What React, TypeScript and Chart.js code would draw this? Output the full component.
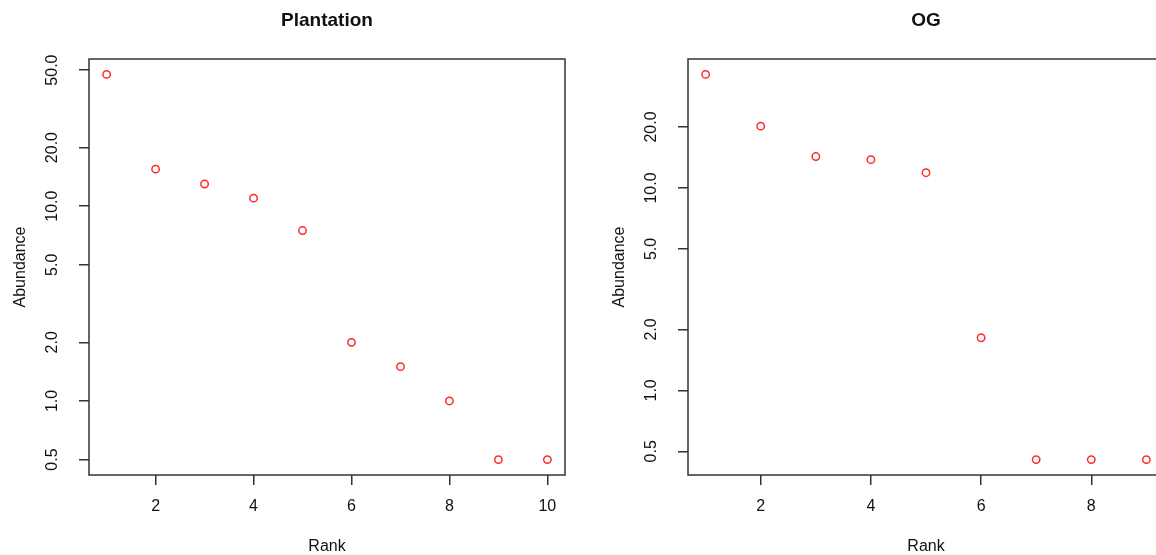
import React, { useEffect, useRef } from "react";
import { Chart, registerables } from "chart.js";

Chart.register(...registerables);

// ---- data ----
const plantationTitle = "Plantation";
const ogTitle = "OG";
const plantationRanks = [1, 2, 3, 4, 5, 6, 7, 8, 9, 10];
const plantationAbundance = [47.5, 15.5, 13, 11, 7.5, 2, 1.5, 1, 0.5, 0.5];
const ogRanks = [1, 2, 3, 4, 5, 6, 7, 8, 9];
const ogAbundance = [36.4, 20.2, 14.3, 13.8, 11.9, 1.82, 0.455, 0.455, 0.455];
const yTickValues = [0.5, 1, 2, 5, 10, 20, 50];
const yTickLabels = ["0.5", "1.0", "2.0", "5.0", "10.0", "20.0", "50.0"];
const xTickValues = [2, 4, 6, 8, 10];
const xTickLabels = ["2", "4", "6", "8", "10"];
const xAxisTitle = "Rank";
const yAxisTitle = "Abundance";

const PANEL_W = 599;
const PANEL_H = 555;
const AXIS_COLOR = "#333333";
const TEXT_COLOR = "#111111";
const POINT_COLOR = "#ff2a2a";
const FONT = '"Liberation Sans", Arial, Helvetica, sans-serif';

const rPlotPlugin = {
  id: "rPlot",
  afterDraw(chart: any) {
    const { ctx, chartArea: a, scales } = chart;
    const xs = scales.x;
    const ys = scales.y;
    const title = chart.options.plugins.rPlot?.title ?? "";
    ctx.save();
    ctx.strokeStyle = AXIS_COLOR;
    ctx.lineWidth = 1.5;
    ctx.strokeRect(a.left, a.top, a.right - a.left, a.bottom - a.top);

    ctx.fillStyle = TEXT_COLOR;
    ctx.font = `16px ${FONT}`;
    ctx.textAlign = "center";
    ctx.textBaseline = "alphabetic";
    for (const t of xs.ticks) {
      const i = xTickValues.indexOf(t.value);
      const lab = i >= 0 ? xTickLabels[i] : String(t.value);
      ctx.fillText(lab, xs.getPixelForValue(t.value), a.bottom + 36);
    }
    for (const t of ys.ticks) {
      const i = yTickValues.indexOf(t.value);
      const lab = i >= 0 ? yTickLabels[i] : String(t.value);
      const py = ys.getPixelForValue(t.value);
      ctx.save();
      ctx.translate(a.left - 32, py);
      ctx.rotate(-Math.PI / 2);
      ctx.fillText(lab, 0, 0);
      ctx.restore();
    }
    ctx.fillText(xAxisTitle, (a.left + a.right) / 2, a.bottom + 76);
    ctx.save();
    ctx.translate(a.left - 64, (a.top + a.bottom) / 2);
    ctx.rotate(-Math.PI / 2);
    ctx.fillText(yAxisTitle, 0, 0);
    ctx.restore();

    ctx.font = `bold 19px ${FONT}`;
    ctx.fillText(title, (a.left + a.right) / 2, a.top - 33);
    ctx.restore();
  },
};

function makeConfig(title: string, ranks: number[], values: number[]) {
  const n = ranks.length;
  const xMin = ranks[0] - 0.04 * (ranks[n - 1] - ranks[0]);
  const xMax = ranks[n - 1] + 0.04 * (ranks[n - 1] - ranks[0]);
  const lo = Math.log10(Math.min(...values));
  const hi = Math.log10(Math.max(...values));
  const d = (hi - lo) * 0.04;
  const yMin = Math.pow(10, lo - d);
  const yMax = Math.pow(10, hi + d);
  return {
    type: "scatter" as const,
    data: {
      datasets: [
        {
          data: ranks.map((r, i) => ({ x: r, y: values[i] })),
          pointStyle: "circle",
          pointRadius: 3.7,
          pointBorderWidth: 1.5,
          pointBorderColor: POINT_COLOR,
          pointBackgroundColor: "rgba(0,0,0,0)",
          showLine: false,
        },
      ],
    },
    options: {
      animation: false,
      responsive: false,
      events: [],
      layout: { padding: { top: 59, right: 34, left: 0, bottom: 0 } },
      plugins: {
        legend: { display: false },
        tooltip: { enabled: false },
        title: { display: false },
        rPlot: { title },
      },
      scales: {
        x: {
          type: "linear",
          min: xMin,
          max: xMax,
          border: { display: false },
          grid: {
            drawOnChartArea: false,
            drawTicks: true,
            tickLength: 10,
            color: AXIS_COLOR,
            lineWidth: 1.5,
          },
          ticks: { display: false, autoSkip: false },
          afterBuildTicks: (scale: any) => {
            scale.ticks = xTickValues
              .filter((v) => v >= scale.min && v <= scale.max)
              .map((v) => ({ value: v }));
          },
          afterFit: (scale: any) => {
            scale.height = 80;
          },
        },
        y: {
          type: "logarithmic",
          min: yMin,
          max: yMax,
          border: { display: false },
          grid: {
            drawOnChartArea: false,
            drawTicks: true,
            tickLength: 10,
            color: AXIS_COLOR,
            lineWidth: 1.5,
          },
          ticks: { display: false, autoSkip: false },
          afterBuildTicks: (scale: any) => {
            scale.ticks = yTickValues
              .filter((v) => v >= scale.min && v <= scale.max)
              .map((v) => ({ value: v }));
          },
          afterFit: (scale: any) => {
            scale.width = 89;
          },
        },
      },
    },
    plugins: [rPlotPlugin],
  };
}

function Panel({ left, title, ranks, values }: { left: number; title: string; ranks: number[]; values: number[] }) {
  const ref = useRef<HTMLCanvasElement | null>(null);
  useEffect(() => {
    if (!ref.current) return;
    const chart = new Chart(ref.current, makeConfig(title, ranks, values) as any);
    return () => chart.destroy();
  }, [title, ranks, values]);
  return (
    <canvas
      ref={ref}
      width={PANEL_W}
      height={PANEL_H}
      style={{ position: "absolute", left, top: 0, width: PANEL_W, height: PANEL_H }}
    />
  );
}

export default function App() {
  useEffect(() => {
    document.body.style.margin = "0";
    document.body.style.overflow = "hidden";
    document.body.style.background = "#ffffff";
  }, []);
  return (
    <div style={{ position: "relative", width: 1156, height: 555, overflow: "hidden", background: "#ffffff" }}>
      <Panel left={0} title={plantationTitle} ranks={plantationRanks} values={plantationAbundance} />
      <Panel left={PANEL_W} title={ogTitle} ranks={ogRanks} values={ogAbundance} />
    </div>
  );
}
